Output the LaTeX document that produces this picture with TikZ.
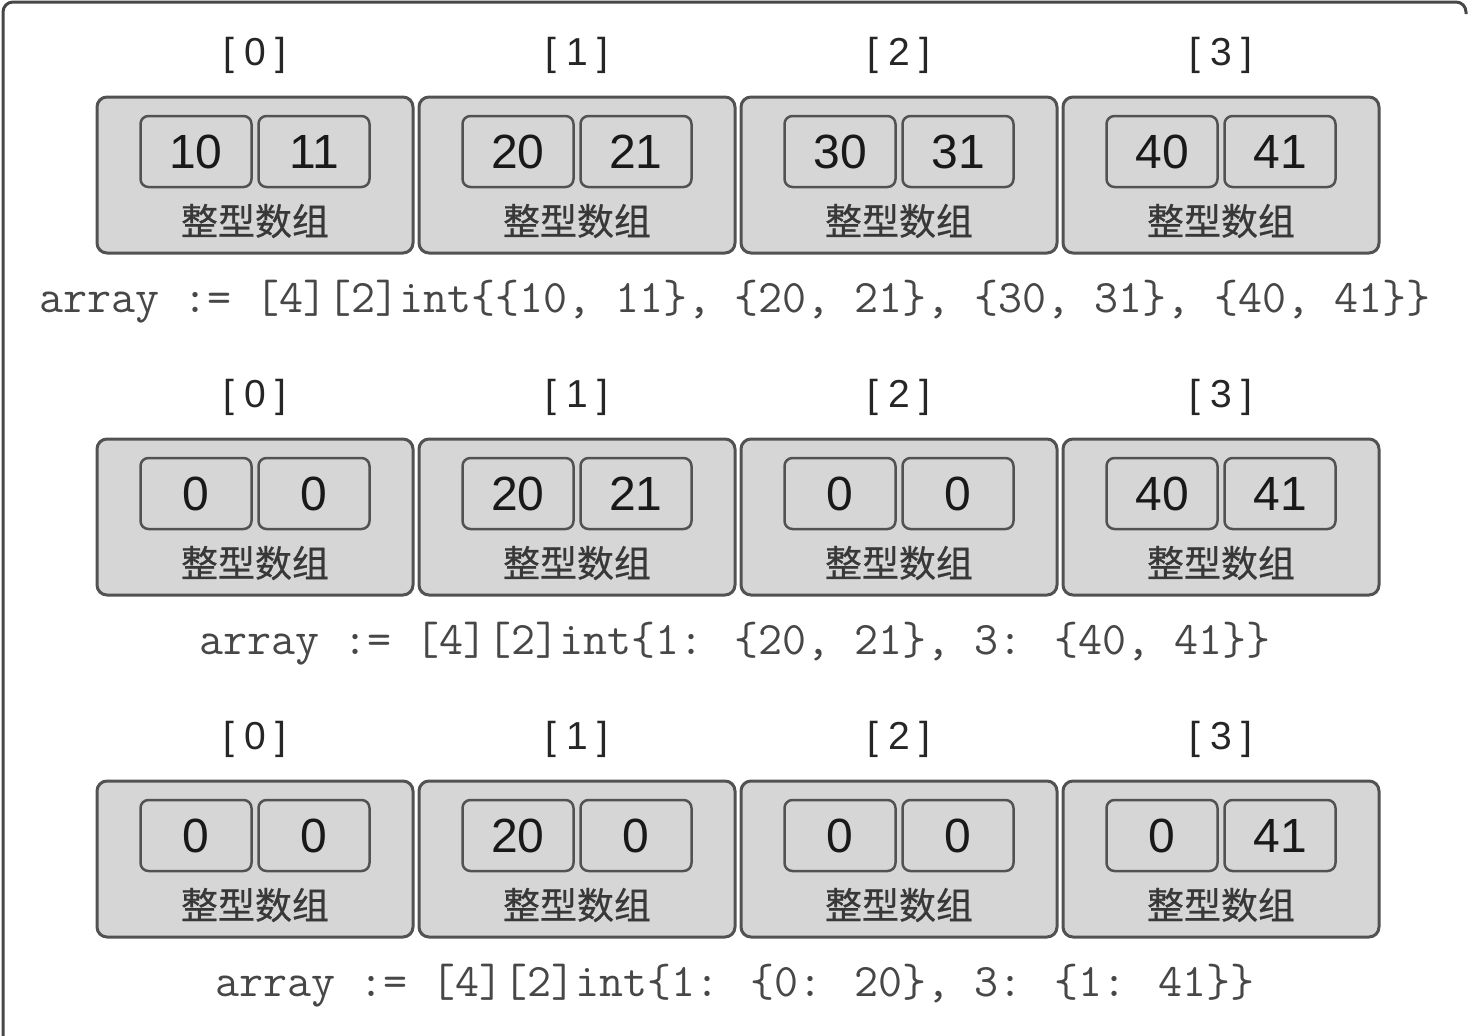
\documentclass[tikz,border=0pt]{standalone}
\usepackage{fontspec}
\setmainfont{Liberation Sans}
\newfontfamily\cjk{Noto Sans CJK SC}
\tikzset{
	frameline/.style={draw=black!72, line width=3pt, rounded corners=10pt},
	outerbox/.style={draw=black!68, line width=3pt, fill=black!16, rounded corners=10pt, minimum width=316pt, minimum height=156pt, inner sep=0pt},
	cellbox/.style={draw=black!68, line width=2.5pt, rounded corners=8pt, minimum width=111pt, minimum height=71pt, inner sep=0pt, font=\fontsize{48}{48}\selectfont, text=black!90},
	idxtext/.style={inner sep=0pt, font=\fontsize{39}{39}\selectfont\addfontfeature{LetterSpace=25}, text=black!85},
	captext/.style={inner sep=0pt, font=\cjk\fontsize{37}{37}\selectfont\addfontfeature{FakeBold=0.6}, text=black!78},
	codeline/.style={inner sep=0pt, font=\ttfamily\fontsize{46.6}{46.6}\selectfont\addfontfeature{FakeBold=1.2}, text=black!72}
}

\begin{document}
\begin{tikzpicture}[x=1pt, y=-1pt]
	\useasboundingbox (0,0) rectangle (1470,1036);
	\draw[frameline] (3,1040) -- (3,2) -- (1466,2) -- (1466,14);
	% three rows of [4][2]int
	\foreach \r/\a/\b/\c/\d/\e/\f/\g/\h in {0/10/11/20/21/30/31/40/41, 1/0/0/20/21/0/0/40/41, 2/0/0/20/0/0/0/0/41}{
		\foreach \i/\lv/\rv in {0/\a/\b, 1/\c/\d, 2/\e/\f, 3/\g/\h}{
			\node[idxtext] (i\r\i) at (255+322*\i, 55+342*\r) {[\i]};
			\node[outerbox] (b\r\i) at (255+322*\i, 175+342*\r) {};
			\node[cellbox] (l\r\i) at (196+322*\i, 151.5+342*\r) {\lv};
			\node[cellbox] (m\r\i) at (314+322*\i, 151.5+342*\r) {\rv};
			\node[captext] (t\r\i) at (255+322*\i, 221+342*\r) {整型数组};
		}
	}
	\node[codeline] (c0) at (735, 302) {array := [4][2]int\{\{10, 11\}, \{20, 21\}, \{30, 31\}, \{40, 41\}\}};
	\node[codeline] (c1) at (735, 644) {array := [4][2]int\{1: \{20, 21\}, 3: \{40, 41\}\}};
	\node[codeline] (c2) at (735, 986) {array := [4][2]int\{1: \{0: 20\}, 3: \{1: 41\}\}};
\end{tikzpicture}
\end{document}
